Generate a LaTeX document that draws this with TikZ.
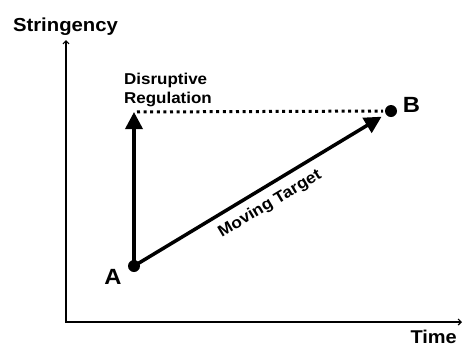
\documentclass[tikz,border=0pt]{standalone}
\usepackage{fontspec}
\setmainfont{Liberation Sans}[FakeStretch=1.08]
\usetikzlibrary{arrows.meta}
\begin{document}
\begin{tikzpicture}[x=1pt,y=-1pt,
  axis/.style={line width=2pt,-{Straight Barb[length=3pt,width=6pt,line width=1.2pt]}},
  move/.style={line width=3.5pt,-{Triangle[length=17pt,width=17pt]}},
  dotline/.style={line width=3pt,dash pattern=on 3pt off 3.6pt},
  pt/.style={circle,fill=black,inner sep=0pt,minimum size=12pt},
  lbl/.style={font=\bfseries\fontsize{#1}{#1}\selectfont,inner sep=0pt},
]
\useasboundingbox[fill=white] (0,0) rectangle (464,346);

% axes
\coordinate (origin) at (66,322);
\coordinate (ytop) at (66,40);
\coordinate (xend) at (462,322);
\draw[axis] (origin) -- (ytop);
\draw[axis] ([xshift=-1pt]origin) -- (xend);
\node[lbl=18.8,anchor=base] (ylab) at (65.5,31) {Stringency};
\node[lbl=18.5,anchor=base east] (xlab) at (457,343) {Time};

% start and end states
\node[pt] (A) at (134,266) {};
\node[pt] (B) at (391,111) {};
\node[lbl=22] (Alab) at (113,277) {A};
\node[lbl=22] (Blab) at (411.5,105) {B};

% paths between the states
\coordinate (top) at (134,112);
\draw[move] (A.center) -- (top);
\draw[dotline,shorten <=3pt,shorten >=8pt] (top) -- (B.center);
\draw[move,shorten >=11pt] (A.center) -- (B.center);

\node[lbl=15.7,align=left,anchor=north west,font=\bfseries\fontsize{15.7}{19}\selectfont] (disr) at (124,73) {Disruptive\\Regulation};
\node[lbl=16,rotate=30.8] (mt) at (270,204) {Moving Target};
\end{tikzpicture}
\end{document}
